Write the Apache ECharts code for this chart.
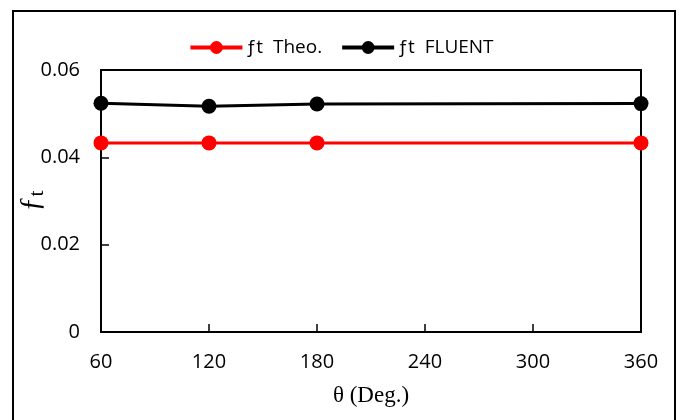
<!DOCTYPE html>
<html>
<head>
<meta charset="utf-8">
<script src="https://cdn.jsdelivr.net/npm/echarts@6/dist/echarts.min.js"></script>
<style>
  html, body { margin: 0; padding: 0; background: #fff; }
  #chart { width: 682px; height: 420px; }
</style>
</head>
<body>
<div id="chart"></div>
<script>
// Angle positions (degrees) and friction-factor values
const theta = [60, 120, 180, 360];
const ftTheo = [0.0433, 0.0433, 0.0433, 0.0433];
const ftFluent = [0.0524, 0.0517, 0.0522, 0.0523];
const xTicks = [60, 120, 180, 240, 300, 360];
const yTicks = [0, 0.02, 0.04, 0.06];

const sansFont = '"Open Sans", "Liberation Sans", sans-serif';
const serifFont = '"Liberation Serif", "DejaVu Serif", serif';

const pairs = (xs, ys) => xs.map((x, i) => [x, ys[i]]);

const chart = echarts.init(document.getElementById('chart'), null, { renderer: 'canvas' });

chart.setOption({
  backgroundColor: '#ffffff',
  animation: false,
  graphic: [{
    type: 'rect',
    shape: { x: 13, y: 11, width: 662, height: 430 },
    style: { fill: 'none', stroke: '#000', lineWidth: 2 },
    silent: true,
    z: 0
  }],
  legend: {
    top: 33,
    left: 'center',
    itemWidth: 52,
    itemHeight: 16,
    itemGap: 18,
    lineStyle: { width: 4 },
    textStyle: { fontFamily: sansFont, fontSize: 19, color: '#000', padding: [0, 0, 0, -2] },
    data: ['ƒt  Theo.', 'ƒt  FLUENT']
  },
  grid: {
    left: 101, right: 41, top: 70, bottom: 88,
    show: true,
    borderColor: '#000',
    borderWidth: 2,
    containLabel: false,
    outerBoundsMode: 'none'
  },
  xAxis: {
    type: 'value',
    min: xTicks[0],
    max: xTicks[xTicks.length - 1],
    interval: 60,
    name: 'θ (Deg.)',
    nameLocation: 'middle',
    nameGap: 52,
    nameMoveOverlap: false,
    nameTextStyle: { fontFamily: serifFont, fontSize: 23, color: '#000' },
    axisLine: { show: true, lineStyle: { color: '#000', width: 2 } },
    axisTick: { show: true, inside: true, length: 8, lineStyle: { color: '#000', width: 1.5 } },
    axisLabel: { fontFamily: sansFont, fontSize: 20, color: '#000', margin: 20 },
    splitLine: { show: false }
  },
  yAxis: {
    type: 'value',
    min: yTicks[0],
    max: yTicks[yTicks.length - 1],
    interval: 0.02,
    name: '{f|ƒ}{s|t}',
    nameLocation: 'middle',
    nameGap: 53,
    nameRotate: 90,
    nameMoveOverlap: false,
    nameTextStyle: {
      color: '#000',
      rich: {
        f: { fontFamily: serifFont, fontSize: 30, color: '#000' },
        s: { fontFamily: serifFont, fontSize: 22, color: '#000', verticalAlign: 'bottom', padding: [12, 0, 0, 0] }
      }
    },
    axisLine: { show: true, lineStyle: { color: '#000', width: 2 } },
    axisTick: { show: true, inside: true, length: 8, lineStyle: { color: '#000', width: 1.5 } },
    axisLabel: {
      fontFamily: sansFont, fontSize: 20, color: '#000', margin: 21,
      formatter: v => (v === 0 ? '0' : v.toFixed(2))
    },
    splitLine: { show: false }
  },
  series: [
    {
      name: 'ƒt  Theo.',
      type: 'line',
      data: pairs(theta, ftTheo),
      symbol: 'circle',
      symbolSize: 15,
      color: '#ff0000',
      lineStyle: { color: '#ff0000', width: 3 },
      itemStyle: { color: '#ff0000' },
      z: 3
    },
    {
      name: 'ƒt  FLUENT',
      type: 'line',
      data: pairs(theta, ftFluent),
      symbol: 'circle',
      symbolSize: 15,
      color: '#000000',
      lineStyle: { color: '#000000', width: 3 },
      itemStyle: { color: '#000000' },
      z: 3
    }
  ]
});
</script>
</body>
</html>
